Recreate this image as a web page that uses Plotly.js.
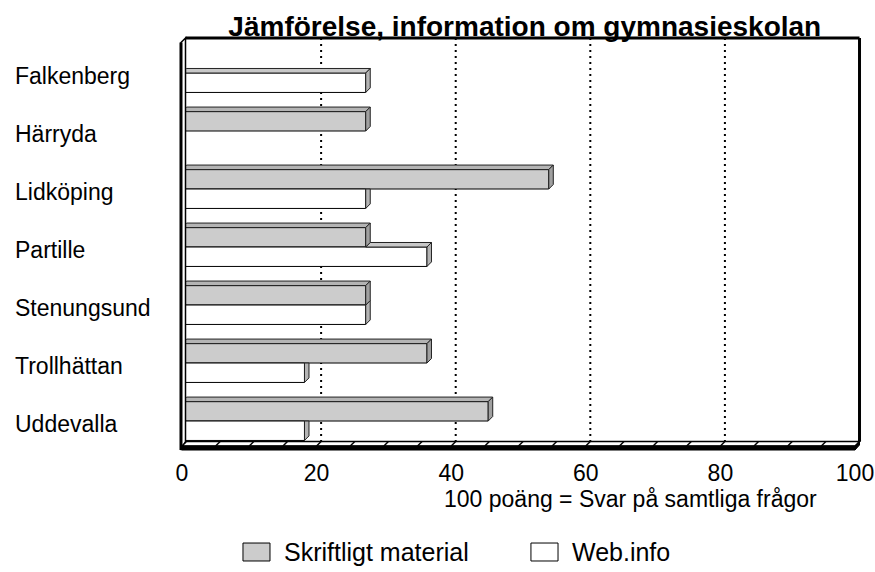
<!DOCTYPE html>
<html>
<head>
<meta charset="utf-8">
<script src="https://cdn.plot.ly/plotly-3.0.1.min.js"></script>
<style>html,body{margin:0;padding:0;background:#fff;}#chart{width:875px;height:572px;}</style>
</head>
<body>
<div id="chart"></div>
<script>
const categories = ['Falkenberg', 'Härryda', 'Lidköping', 'Partille', 'Stenungsund', 'Trollhättan', 'Uddevalla'];
const skriftligt = [0, 27.3, 54.5, 27.3, 27.3, 36.4, 45.5];
const webinfo = [27.3, 0, 27.3, 36.4, 27.3, 18.2, 18.2];
const seriesNames = ['Skriftligt material', 'Web.info'];
const seriesColors = ['#cccccc', '#ffffff'];
const xTicks = [0, 20, 40, 60, 80, 100];
const gridVals = [20, 40, 60, 80];
const floorTicks = [5, 10, 15, 20, 25, 30, 35, 40, 45, 50, 55, 60, 65, 70, 75, 80, 85, 90, 95];
const xTitle = '100 poäng = Svar på samtliga frågor';
const chartTitle = 'Jämförelse, information om gymnasieskolan';

const FONT = 'Liberation Sans, Arial, sans-serif';
const yIdx = categories.map((c, i) => i);
const bargap = 0.33;
const bw = (1 - bargap) / 2;
const dx = 0.67;   // depth in x units
const dy = 0.078;  // depth in category units
const yTopBack = -0.603, yTopFront = -0.526;
const yFloorBack = 6.353, yFloorFront = 6.431, yFloorBottom = 6.5;

const traces = [
  {type: 'bar', orientation: 'h', name: seriesNames[0], y: yIdx, x: skriftligt,
   marker: {color: seriesColors[0], line: {color: '#000000', width: 1}}, hoverinfo: 'x'},
  {type: 'bar', orientation: 'h', name: seriesNames[1], y: yIdx, x: webinfo,
   marker: {color: seriesColors[1], line: {color: '#000000', width: 1}}, hoverinfo: 'x'}
];

const shapes = [];
// back-wall dotted gridlines
gridVals.forEach(g => shapes.push({type: 'line', xref: 'x', yref: 'y', layer: 'below',
  x0: g + dx, x1: g + dx, y0: yTopBack, y1: yFloorBack, line: {color: '#000', width: 2, dash: '2px,4px'}}));

function poly(pts, fill) {
  return {type: 'path', xref: 'x', yref: 'y', layer: 'above',
    path: 'M' + pts.map(p => p[0] + ',' + p[1]).join('L') + 'Z',
    fillcolor: fill, line: {color: '#222', width: 1}};
}
// 3D faces: web (lower) first, then skriftligt
yIdx.forEach(i => {
  const s = skriftligt[i], w = webinfo[i];
  if (w > 0) {
    const t = i, b = i + bw;
    if (w > s) {
      const x0 = Math.max(0, s);
      shapes.push(poly([[x0, t], [w, t], [w + dx, t - dy], [x0 + dx, t - dy]], '#c8c8c8'));
      shapes.push(poly([[w, t], [w + dx, t - dy], [w + dx, b - dy], [w, b]], '#b4b4b4'));
    } else if (w === s) {
      shapes.push(poly([[w, t], [w + dx, t - dy], [w + dx, b - dy], [w, b]], '#b4b4b4'));
    } else {
      shapes.push(poly([[w, t], [w + dx, t], [w + dx, b - dy], [w, b]], '#b4b4b4'));
    }
  }
  if (s > 0) {
    const t = i - bw, b = i;
    shapes.push(poly([[0, t], [s, t], [s + dx, t - dy], [dx, t - dy]], '#b4b4b4'));
    shapes.push(poly([[s, t], [s + dx, t - dy], [s + dx, b - dy], [s, b]], '#a0a0a0'));
  }
});
// left wall
shapes.push({type: 'path', xref: 'x', yref: 'y', layer: 'above',
  path: `M-0.15,${yTopFront}L${dx - 0.15},${yTopBack}L${dx - 0.15},${yFloorBack}L-0.15,${yFloorBottom}Z`,
  fillcolor: '#ffffff', line: {color: '#000', width: 1.5}});
shapes.push({type: 'line', xref: 'x', yref: 'y', layer: 'above',
  x0: -0.15, x1: -0.15, y0: yTopFront, y1: yFloorBottom, line: {color: '#000', width: 3}});
// back wall top and right edges
shapes.push({type: 'line', xref: 'x', yref: 'y', layer: 'above',
  x0: dx - 0.15, x1: 100 + dx, y0: yTopBack, y1: yTopBack, line: {color: '#000', width: 3}});
shapes.push({type: 'line', xref: 'x', yref: 'y', layer: 'above',
  x0: 100 + dx, x1: 100 + dx, y0: yTopBack, y1: yFloorBack, line: {color: '#000', width: 3}});
// floor slab
shapes.push({type: 'path', xref: 'x', yref: 'y', layer: 'above',
  path: `M0,${yFloorFront}L100,${yFloorFront}L${100 + dx},${yFloorBack}L${dx},${yFloorBack}Z`,
  fillcolor: '#ffffff', line: {color: '#000', width: 1.5}});
shapes.push({type: 'path', xref: 'x', yref: 'y', layer: 'above',
  path: `M0,${yFloorFront}L100,${yFloorFront}L100,${yFloorBottom}L0,${yFloorBottom}Z`,
  fillcolor: '#000000', line: {color: '#000', width: 1}});
shapes.push({type: 'path', xref: 'x', yref: 'y', layer: 'above',
  path: `M100,${yFloorFront}L${100 + dx},${yFloorBack}L${100 + dx},${yFloorBack + 0.06}L100,${yFloorBottom}Z`,
  fillcolor: '#000000', line: {color: '#000', width: 1}});
floorTicks.forEach(v => shapes.push({type: 'line', xref: 'x', yref: 'y', layer: 'above',
  x0: v, x1: v + dx, y0: yFloorFront, y1: yFloorBack, line: {color: '#000', width: 1.5}}));

// legend (drawn as boxes + text, matching the reference's large swatches)
const legendBoxX = [[0.095, 0.1345], [0.516, 0.5556]];
const legendTextX = [0.152, 0.573];
seriesNames.forEach((n, k) => shapes.push({type: 'rect', xref: 'paper', yref: 'paper',
  x0: legendBoxX[k][0], x1: legendBoxX[k][1], y0: -0.262, y1: -0.2188,
  fillcolor: seriesColors[k], line: {color: '#000', width: 1}}));

const annotations = categories.map((c, i) => ({
  xref: 'paper', yref: 'y', x: -0.241, y: i, xanchor: 'left', yanchor: 'middle', yshift: -3,
  text: c, showarrow: false, font: {family: FONT, size: 23, color: '#000'}
}));
annotations.push({xref: 'x', yref: 'paper', x: 66.7, y: -0.113, xanchor: 'center', yanchor: 'middle',
  text: xTitle, showarrow: false, font: {family: FONT, size: 23, color: '#000'}});
seriesNames.forEach((n, k) => annotations.push({xref: 'paper', yref: 'paper', x: legendTextX[k], y: -0.2404,
  xanchor: 'left', yanchor: 'middle', text: n, showarrow: false, font: {family: FONT, size: 25, color: '#000'}}));

const layout = {
  width: 875, height: 572,
  margin: {l: 178, r: 13, t: 36, b: 120, autoexpand: false},
  paper_bgcolor: '#ffffff', plot_bgcolor: '#ffffff',
  font: {family: FONT, color: '#000'},
  title: {text: '<b>' + chartTitle + '</b>', font: {family: FONT, size: 28, color: '#000'},
    xref: 'paper', x: 0.507, xanchor: 'center', yref: 'container', y: 0.955, yanchor: 'middle'},
  barmode: 'group', bargap: bargap, bargroupgap: 0,
  xaxis: {range: [-0.594, 101.04], tickvals: xTicks, ticks: '', showgrid: false, zeroline: false,
    showline: false, ticklabelstandoff: 5, tickfont: {family: FONT, size: 23, color: '#000'},
    fixedrange: true, automargin: false},
  yaxis: {range: [6.534, -0.638], showticklabels: false, showgrid: false, zeroline: false,
    showline: false, ticks: '', fixedrange: true, automargin: false},
  showlegend: false,
  shapes: shapes,
  annotations: annotations
};

Plotly.newPlot('chart', traces, layout, {displayModeBar: false, staticPlot: true});
</script>
</body>
</html>
